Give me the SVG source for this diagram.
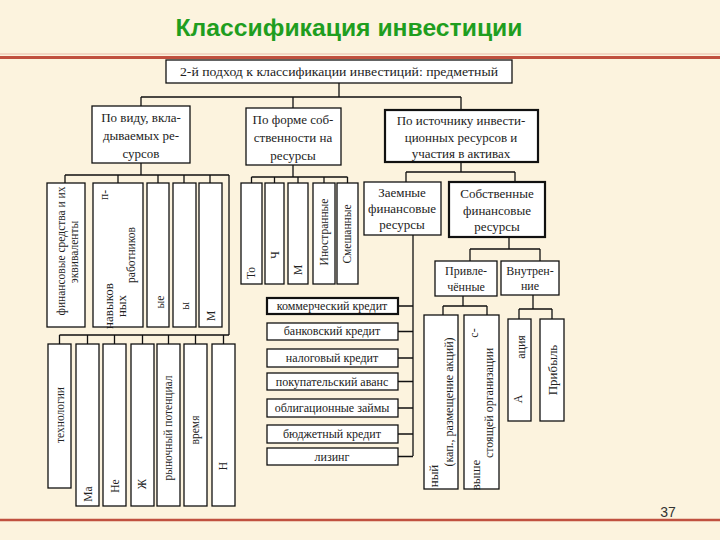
<svg xmlns="http://www.w3.org/2000/svg" width="720" height="540" viewBox="0 0 720 540">
<style>
.b{fill:#fff;stroke:#111;stroke-width:1.3}
.bb{stroke-width:2.2}
.c{fill:none;stroke:#111;stroke-width:1.3}
.t{font-family:"Liberation Serif","DejaVu Serif",serif;font-size:13px;fill:#222;text-anchor:middle}
.s{font-size:12px}
.v{font-size:11.5px}
</style>
<rect width="720" height="540" fill="#fcf3de"/>
<text x="349" y="36" font-family="Liberation Sans, Arial, sans-serif" font-size="24" font-weight="bold" fill="#1f9e1f" text-anchor="middle" textLength="347" lengthAdjust="spacingAndGlyphs">Классификация инвестиции</text>
<line x1="0" y1="54" x2="720" y2="54" stroke="#e9b9a8" stroke-width="1"/>
<line x1="0" y1="57.5" x2="720" y2="57.5" stroke="#c0503f" stroke-width="3"/>
<line x1="0" y1="520" x2="720" y2="520" stroke="#c0503f" stroke-width="2.5"/>
<text x="668" y="517" font-family="Liberation Sans, Arial, sans-serif" font-size="14" fill="#333" text-anchor="middle">37</text>

<g id="connectors" class="c">
<path d="M339 83V97M141 97H461M141 97V106M293 97V108M461 97V110"/>
<path d="M141 163V175M65 175H229M65 175V183M118 175V183M158 175V183M184 175V183M210 175V183M229 175V335"/>
<path d="M59.5 335H229M59.5 335V344M87.5 335V344M114.5 335V344M142.5 335V344M168.5 335V344M195.5 335V344M223.5 335V344"/>
<path d="M293 165V177M251.5 177H347.5M251.5 177V183M274.5 177V183M298 177V183M324 177V183M347.5 177V183"/>
<path d="M461 162V172M406 172H515M406 172V182M515 172V182"/>
<path d="M413 235V456M398 306H413M398 331.5H413M398 358H413M398 381.5H413M398 408H413M398 434H413M398 456.5H413"/>
<path d="M509 237V249M470 249H540M470 249V261M540 249V261"/>
<path d="M463 296V306M443 306H487M443 306V315M487 306V315"/>
<path d="M533 295V309M519 309H552M519 309V319M552 309V319"/>
</g>

<g id="root"><rect class="b" x="166" y="60" width="346" height="23"/><text class="t" x="339" y="76" font-size="14" textLength="318" lengthAdjust="spacingAndGlyphs">2-й подход к классификации инвестиций: предметный</text></g>

<g id="byType"><rect class="b" x="92" y="106" width="98" height="57"/><text class="t" x="141" y="122">По виду, вкла-</text><text class="t" x="141" y="140">дываемых ре-</text><text class="t" x="141" y="158">сурсов</text></g>
<g id="byOwnership"><rect class="b" x="246" y="108" width="95" height="57"/><text class="t" x="293" y="124">По форме соб-</text><text class="t" x="293" y="142">ственности на</text><text class="t" x="293" y="160">ресурсы</text></g>
<g id="bySource"><rect class="b bb" x="385" y="110" width="153" height="52"/><text class="t" x="461" y="125" font-size="13.5">По источнику инвести-</text><text class="t" x="461" y="142" font-size="13.5">ционных ресурсов и</text><text class="t" x="461" y="158" font-size="13.5">участия в активах</text></g>

<g id="a1"><rect class="b" x="47" y="183" width="38" height="144"/><text class="t v" transform="translate(61,251) rotate(-90)" dy="0.35em">финансовые средства и их</text><text class="t v" transform="translate(74,252) rotate(-90)" dy="0.35em">эквиваленты</text></g>
<g id="a2"><rect class="b" x="93" y="183" width="50" height="144"/><text class="t v" transform="translate(104,195) rotate(-90)" dy="0.35em">п-</text><text class="t v" transform="translate(131,255) rotate(-90)" dy="0.35em">работников</text><text class="t" font-size="8" transform="translate(121,306) rotate(-90)" dy="0.35em">ных</text><text class="t" font-size="8" transform="translate(108,306) rotate(-90)" dy="0.35em">навыков</text></g>
<g id="a3"><rect class="b" x="147" y="183" width="22" height="144"/><text class="t v" transform="translate(160,302) rotate(-90)" dy="0.35em">ые</text></g>
<g id="a4"><rect class="b" x="173" y="183" width="23" height="144"/><text class="t v" transform="translate(185,306) rotate(-90)" dy="0.35em">ы</text></g>
<g id="a5"><rect class="b" x="199" y="183" width="23" height="144"/><text class="t v" transform="translate(211,316) rotate(-90)" dy="0.35em">М</text></g>

<g id="a6"><rect class="b" x="48" y="344" width="23" height="144"/><text class="t v" transform="translate(60,415) rotate(-90)" dy="0.35em">технологии</text></g>
<g id="a7"><rect class="b" x="76" y="344" width="23" height="162"/><text class="t v" transform="translate(88,494) rotate(-90)" dy="0.35em">Ма</text></g>
<g id="a8"><rect class="b" x="103" y="344" width="23" height="162"/><text class="t v" transform="translate(115,486) rotate(-90)" dy="0.35em">Не</text></g>
<g id="a9"><rect class="b" x="131" y="344" width="23" height="162"/><text class="t v" transform="translate(142,484) rotate(-90)" dy="0.35em">Ж</text></g>
<g id="a10"><rect class="b" x="157" y="344" width="23" height="162"/><text class="t v" transform="translate(168,428) rotate(-90)" dy="0.35em">рыночный потенциал</text></g>
<g id="a11"><rect class="b" x="184" y="344" width="23" height="162"/><text class="t v" transform="translate(195,430) rotate(-90)" dy="0.35em">время</text></g>
<g id="a12"><rect class="b" x="212" y="344" width="23" height="162"/><text class="t v" transform="translate(223,466) rotate(-90)" dy="0.35em">Н</text></g>

<g id="b1"><rect class="b" x="241" y="183" width="21" height="101"/><text class="t v" transform="translate(251,273) rotate(-90)" dy="0.35em">То</text></g>
<g id="b2"><rect class="b" x="265" y="183" width="19" height="101"/><text class="t v" transform="translate(275,255) rotate(-90)" dy="0.35em">Ч</text></g>
<g id="b3"><rect class="b" x="288" y="183" width="20" height="101"/><text class="t v" transform="translate(298,270) rotate(-90)" dy="0.35em">М</text></g>
<g id="b4"><rect class="b" x="313" y="183" width="22" height="101"/><text class="t v" transform="translate(324,232) rotate(-90)" dy="0.35em">Иностранные</text></g>
<g id="b5"><rect class="b" x="337" y="183" width="21" height="101"/><text class="t v" transform="translate(347,234) rotate(-90)" dy="0.35em">Смешанные</text></g>

<g id="borrowed"><rect class="b" x="364" y="182" width="77" height="53"/><text class="t" x="402" y="197">Заемные</text><text class="t" x="402" y="213">финансовые</text><text class="t" x="402" y="229">ресурсы</text></g>
<g id="own"><rect class="b bb" x="449" y="182" width="96" height="55"/><text class="t" x="497" y="198">Собственные</text><text class="t" x="497" y="215">финансовые</text><text class="t" x="497" y="231">ресурсы</text></g>
<g id="attracted"><rect class="b" x="435" y="261" width="62" height="35"/><text class="t s" x="466" y="275">Привле-</text><text class="t s" x="466" y="291">чённые</text></g>
<g id="internal"><rect class="b" x="501" y="261" width="58" height="34"/><text class="t s" x="530" y="275">Внутрен-</text><text class="t s" x="530" y="290">ние</text></g>

<g id="k1"><rect class="b bb" x="267" y="298" width="131" height="16"/><text class="t s" x="332" y="310">коммерческий кредит</text></g>
<g id="k2"><rect class="b" x="267" y="323" width="131" height="17"/><text class="t s" x="332" y="335">банковский кредит</text></g>
<g id="k3"><rect class="b" x="267" y="349" width="131" height="18"/><text class="t s" x="332" y="362">налоговый кредит</text></g>
<g id="k4"><rect class="b" x="267" y="373" width="131" height="17"/><text class="t s" x="332" y="386">покупательский аванс</text></g>
<g id="k5"><rect class="b" x="267" y="399" width="131" height="18"/><text class="t s" x="332" y="412">облигационные займы</text></g>
<g id="k6"><rect class="b" x="267" y="425" width="131" height="18"/><text class="t s" x="332" y="438">бюджетный кредит</text></g>
<g id="k7"><rect class="b" x="267" y="448" width="131" height="17"/><text class="t s" x="332" y="461">лизинг</text></g>

<g id="p1"><rect class="b" x="424" y="315" width="34" height="174"/><text class="t s" transform="translate(449,402) rotate(-90)" dy="0.35em">(кап., размещение акций)</text><text class="t" font-size="8" transform="translate(433,476) rotate(-90)" dy="0.35em">ный</text></g>
<g id="p2"><rect class="b" x="464" y="315" width="35" height="174"/><text class="t s" transform="translate(474,333) rotate(-90)" dy="0.35em">с-</text><text class="t s" transform="translate(489,403) rotate(-90)" dy="0.35em">стоящей организации</text><text class="t" font-size="8" transform="translate(475,475) rotate(-90)" dy="0.35em">выше</text></g>
<g id="i1"><rect class="b" x="508" y="319" width="23" height="102"/><text class="t s" transform="translate(521,347) rotate(-90)" dy="0.35em">ация</text><text class="t s" transform="translate(518,399) rotate(-90)" dy="0.35em">А</text></g>
<g id="i2"><rect class="b" x="540" y="319" width="24" height="102"/><text class="t" transform="translate(552,370) rotate(-90)" dy="0.35em">Прибыль</text></g>
</svg>
